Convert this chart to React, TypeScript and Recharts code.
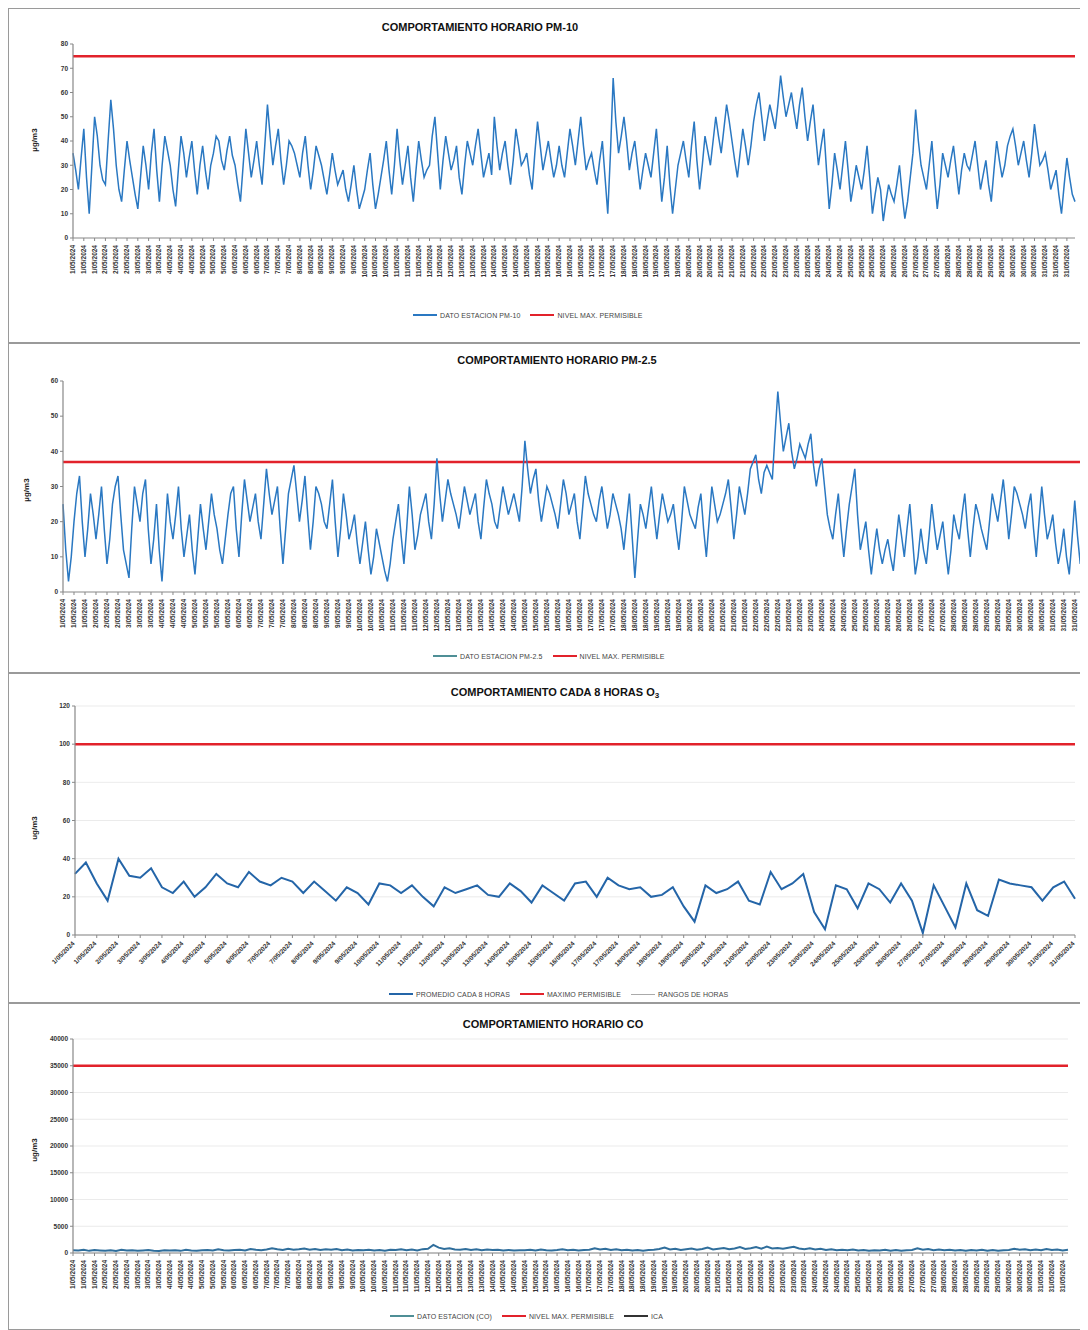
import React from 'react';
import { LineChart, Line, XAxis, YAxis, CartesianGrid, ReferenceLine } from 'recharts';

// ---------- DATA (May 2024) ----------
const MONTH_SUFFIX = '/05/2024';

// PM-10 hourly, sampled every 2 hours (12 per day)
const pm10Values = [
  35, 28, 20, 33, 45, 25, 10, 30, 50, 42, 30, 24,
  22, 40, 57, 45, 30, 20, 15, 28, 40, 32, 25, 18,
  12, 25, 38, 30, 20, 35, 45, 28, 15, 30, 42, 36,
  30, 20, 13, 28, 42, 35, 25, 33, 40, 28, 18, 30,
  38, 28, 20, 30, 35, 42, 40, 32, 28, 36, 42, 34,
  30, 22, 15, 30, 45, 35, 25, 32, 40, 30, 22, 38,
  55, 42, 30, 38, 45, 32, 22, 30, 40, 38, 35, 30,
  25, 35, 42, 30, 20, 28, 38, 34, 30, 24, 18, 26,
  35, 28, 22, 25, 28, 20, 15, 22, 30, 20, 12, 16,
  20, 28, 35, 22, 12, 18, 25, 32, 40, 28, 18, 30,
  45, 32, 22, 30, 38, 25, 15, 28, 40, 32, 25, 28,
  30, 42, 50, 35, 20, 32, 42, 35, 28, 32, 38, 25,
  18, 30, 40, 35, 30, 38, 45, 35, 25, 30, 35, 26,
  50, 38, 28, 35, 40, 30, 22, 32, 45, 38, 30, 32,
  35, 26, 20, 35, 48, 38, 28, 34, 40, 32, 25, 30,
  38, 30, 25, 35, 45, 38, 30, 40, 50, 38, 28, 32,
  35, 28, 22, 32, 40, 25, 10, 35, 66, 48, 35, 42,
  50, 40, 28, 35, 40, 30, 20, 28, 35, 30, 25, 35,
  45, 30, 15, 25, 38, 22, 10, 20, 30, 35, 40, 32,
  25, 38, 48, 32, 20, 30, 42, 36, 30, 40, 50, 42,
  35, 45, 55, 48, 40, 32, 25, 35, 45, 38, 30, 38,
  48, 55, 60, 50, 40, 48, 55, 50, 45, 55, 67, 58,
  50, 55, 60, 52, 45, 55, 62, 50, 40, 48, 55, 42,
  30, 38, 45, 28, 12, 22, 35, 28, 20, 30, 40, 28,
  15, 22, 30, 25, 20, 28, 38, 25, 10, 18, 25, 20,
  7, 15, 22, 18, 15, 22, 30, 18, 8, 15, 25, 35,
  53, 40, 30, 25, 20, 30, 40, 25, 12, 22, 35, 30,
  25, 32, 38, 28, 18, 28, 35, 30, 28, 34, 40, 30,
  20, 26, 32, 22, 15, 28, 40, 32, 25, 30, 38, 42,
  45, 38, 30, 35, 40, 32, 25, 35, 47, 38, 30, 32,
  35, 28, 20, 24, 28, 18, 10, 22, 33, 25, 18, 15,
];

// PM-2.5 hourly, sampled every 2 hours (12 per day)
const pm25Values = [
  25, 12, 3, 10, 20, 28, 33, 20, 10, 18, 28, 22,
  15, 22, 30, 18, 8, 15, 25, 30, 33, 22, 12, 8,
  4, 18, 30, 25, 20, 28, 32, 18, 8, 15, 25, 12,
  3, 15, 28, 20, 15, 22, 30, 18, 10, 16, 22, 12,
  5, 15, 25, 18, 12, 20, 28, 22, 18, 12, 8, 15,
  22, 28, 30, 18, 10, 22, 32, 26, 20, 24, 28, 20,
  15, 25, 35, 28, 22, 26, 30, 18, 8, 18, 28, 32,
  36, 28, 20, 26, 33, 22, 12, 20, 30, 28, 25, 20,
  18, 25, 32, 20, 10, 18, 28, 22, 15, 18, 22, 14,
  8, 14, 20, 12, 5, 10, 18, 14, 10, 6, 3, 8,
  15, 20, 25, 16, 8, 18, 30, 22, 12, 16, 22, 25,
  28, 20, 15, 25, 38, 28, 20, 26, 32, 28, 25, 22,
  18, 24, 30, 26, 22, 25, 28, 20, 15, 24, 32, 28,
  25, 20, 18, 24, 30, 26, 22, 25, 28, 24, 20, 30,
  43, 35, 28, 32, 35, 26, 20, 25, 30, 28, 25, 22,
  18, 25, 32, 28, 22, 25, 28, 20, 15, 24, 33, 28,
  25, 22, 20, 26, 30, 24, 18, 22, 28, 25, 22, 18,
  12, 20, 28, 16, 4, 15, 25, 22, 18, 24, 30, 22,
  15, 22, 28, 24, 20, 22, 25, 18, 12, 20, 30, 26,
  22, 20, 18, 24, 28, 18, 10, 20, 30, 25, 20, 22,
  25, 28, 32, 24, 15, 22, 30, 26, 22, 28, 35, 37,
  39, 32, 28, 34, 36, 34, 32, 45, 57, 48, 40, 44,
  48, 40, 35, 38, 42, 40, 38, 42, 45, 36, 30, 35,
  38, 30, 22, 18, 15, 22, 28, 18, 10, 18, 25, 30,
  35, 22, 12, 16, 20, 12, 5, 12, 18, 12, 8, 12,
  15, 10, 6, 14, 22, 16, 10, 18, 25, 15, 5, 10,
  18, 12, 8, 16, 25, 18, 12, 16, 20, 12, 5, 12,
  22, 18, 15, 22, 28, 18, 10, 18, 25, 22, 18, 15,
  12, 20, 28, 24, 20, 26, 32, 24, 15, 22, 30, 28,
  25, 22, 18, 24, 28, 18, 10, 20, 30, 22, 15, 18,
  22, 14, 8, 12, 18, 10, 5, 15, 26, 16, 8, 10,
];

// O3 8-hour averages (3 per day)
const o3Values = [
  32, 38, 27, 18, 40, 31, 30, 35, 25, 22, 28, 20, 25, 32, 27, 25, 33, 28,
  26, 30, 28, 22, 28, 23, 18, 25, 22, 16, 27, 26, 22, 26, 20, 15, 25, 22,
  24, 26, 21, 20, 27, 23, 17, 26, 22, 18, 27, 28, 20, 30, 26, 24, 25, 20,
  21, 25, 15, 7, 26, 22, 24, 28, 18, 16, 33, 24, 27, 32, 12, 3, 26, 24,
  14, 27, 24, 17, 27, 18, 1, 26, 15, 4, 27, 13, 10, 29, 27, 26, 25, 18,
  25, 28, 19,
];

// CO hourly, sampled every 4 hours (6 per day)
const coValues = [
  500, 450, 600, 400, 550, 480,
  420, 520, 380, 600, 450, 500,
  400, 480, 550, 420, 380, 500,
  450, 520, 400, 600, 480, 420,
  500, 580, 450, 700, 520, 480,
  550, 620, 480, 750, 600, 500,
  650, 900, 700, 550, 800, 600,
  700, 850, 600, 750, 550, 680,
  600, 750, 520, 650, 480, 580,
  500, 620, 450, 550, 420, 600,
  550, 700, 500, 650, 480, 720,
  800, 1500, 1000, 750, 900, 650,
  600, 750, 550, 700, 500, 650,
  550, 620, 480, 580, 450, 520,
  500, 600, 450, 650, 520, 480,
  550, 700, 500, 620, 480, 560,
  600, 900, 650, 800, 550, 700,
  500, 620, 450, 580, 420, 550,
  600, 750, 1000, 650, 800, 550,
  700, 850, 600, 750, 1000, 650,
  800, 950, 700, 850, 1100, 750,
  900, 1100, 800, 1200, 850, 950,
  800, 1000, 1150, 850, 700, 900,
  650, 800, 550, 700, 500, 600,
  500, 650, 450, 580, 420, 520,
  480, 600, 420, 550, 400, 500,
  550, 900, 600, 750, 500, 650,
  500, 620, 450, 580, 420, 550,
  480, 600, 430, 560, 410, 520,
  550, 800, 600, 700, 500, 650,
  500, 750, 550, 650, 450, 600,
];

const PM10_LIMIT = 75;
const PM25_LIMIT = 37;
const O3_LIMIT = 100;
const CO_LIMIT = 35000;

const pm10Ticks = [0, 10, 20, 30, 40, 50, 60, 70, 80];
const pm25Ticks = [0, 10, 20, 30, 40, 50, 60];
const o3Ticks = [0, 20, 40, 60, 80, 100, 120];
const coTicks = [0, 5000, 10000, 15000, 20000, 25000, 30000, 35000, 40000];

const buildRows = (values: number[], perDay: number) =>
  values.map((v, i) => ({ label: `${Math.floor(i / perDay) + 1}${MONTH_SUFFIX}`, value: v }));

const pm10Data = buildRows(pm10Values, 12);
const pm25Data = buildRows(pm25Values, 12);
const o3Data = buildRows(o3Values, 3);
const coData = buildRows(coValues, 6);

// ---------- STYLE ----------
const FONT = '"Liberation Sans", Arial, sans-serif';
const RED = '#e2222b';
const BLUE = '#2a78c2';
const O3_BLUE = '#2465a8';
const CO_BLUE = '#2f6e9c';

const VerticalTick = (props: any) => {
  const { x, y, payload } = props;
  const yy = y + 2;
  return (
    <text x={x + 2} y={yy} transform={`rotate(-90 ${x + 2} ${yy})`} textAnchor="end" fontSize={6.5}
      fontFamily={FONT} fontWeight="bold" fill="#333">
      {payload.value}
    </text>
  );
};

const DiagTick = (props: any) => {
  const { x, y, payload } = props;
  const yy = y + 4;
  return (
    <text x={x} y={yy} transform={`rotate(-45 ${x} ${yy})`} textAnchor="end" fontSize={6.5}
      fontFamily={FONT} fontWeight="bold" fill="#333">
      {payload.value}
    </text>
  );
};

type LegendItem = { label: string; color: string; width: number };

type PanelProps = {
  top: number;
  height: number;
  title: React.ReactNode;
  titleX: number;
  titleY: number;
  yLabel: string;
  yLabelX: number;
  yLabelY: number;
  plotLeft: number;
  plotTop: number;
  plotRight: number;
  plotBottom: number;
  data: { label: string; value: number }[];
  ticks: number[];
  limit: number;
  lineColor: string;
  lineWidth: number;
  diag?: boolean;
  tickInterval: number;
  legend: LegendItem[];
  legendX: number;
  legendY: number;
  grid?: boolean;
};

const Panel = (p: PanelProps) => {
  const width = 1080;
  const xAxisH = 60;
  const chartH = p.plotBottom + xAxisH;
  const max = p.ticks[p.ticks.length - 1];
  return (
    <div style={{ position: 'absolute', left: 0, top: p.top, width, height: p.height, fontFamily: FONT }}>
      <div style={{ position: 'absolute', left: 0, top: 0 }}>
        <LineChart width={width} height={chartH} data={p.data}
          margin={{ top: p.plotTop, right: width - p.plotRight, bottom: 0, left: 0 }}>
          {p.grid && <CartesianGrid vertical={false} stroke="#e6e6e6" strokeWidth={0.8} />}
          <XAxis dataKey="label" interval={p.tickInterval} height={xAxisH}
            tick={p.diag ? <DiagTick /> : <VerticalTick />} tickLine={{ stroke: '#888' }} tickSize={3}
            axisLine={{ stroke: '#888', strokeWidth: 1.2 }} />
          <XAxis xAxisId="top" dataKey="label" orientation="top" height={0} tick={false} tickLine={false}
            axisLine={{ stroke: '#888', strokeWidth: 1.2 }} />
          <YAxis width={p.plotLeft} domain={[0, max]} ticks={p.ticks} interval={0} tickSize={3}
            tick={{ fontSize: 6.5, fill: '#333', fontFamily: FONT, fontWeight: 'bold' }}
            tickLine={{ stroke: '#888' }} axisLine={{ stroke: '#888', strokeWidth: 1.2 }} />
          <YAxis yAxisId="right" orientation="right" width={0} domain={[0, 1]} type="number" tick={false}
            tickLine={false} axisLine={{ stroke: '#888', strokeWidth: 1.2 }} />
          <ReferenceLine y={p.limit} stroke={RED} strokeWidth={2.5} ifOverflow="extendDomain" />
          <Line type="linear" dataKey="value" stroke={p.lineColor} strokeWidth={p.lineWidth} dot={false}
            isAnimationActive={false} />
        </LineChart>
      </div>
      <div style={{ position: 'absolute', left: 0, width: p.titleX * 2, top: p.titleY - 8, textAlign: 'center',
        fontSize: 11, fontWeight: 'bold', color: '#111', whiteSpace: 'nowrap', lineHeight: '16px' }}>
        {p.title}
      </div>
      <div style={{ position: 'absolute', left: p.yLabelX - 30, top: p.yLabelY - 8, width: 60, height: 16,
        transform: 'rotate(-90deg)', textAlign: 'center', fontSize: 8, fontWeight: 'bold', color: '#222',
        lineHeight: '16px' }}>
        {p.yLabel}
      </div>
      <div style={{ position: 'absolute', left: p.legendX, top: p.legendY - 6, height: 12, display: 'flex',
        alignItems: 'center', gap: 10, whiteSpace: 'nowrap' }}>
        {p.legend.map((it) => (
          <div key={it.label} style={{ display: 'flex', alignItems: 'center', gap: 3 }}>
            <div style={{ width: 24, height: it.width, background: it.color }} />
            <span style={{ fontSize: 7, color: '#444', letterSpacing: 0.1 }}>{it.label}</span>
          </div>
        ))}
      </div>
      <div style={{ position: 'absolute', left: 0, top: 0, width: width - 2, height: p.height - 2,
        border: '1.5px solid #9a9a9a', pointerEvents: 'none' }} />
    </div>
  );
};

export default function App() {
  return (
    <div style={{ position: 'relative', width: 1080, height: 1322, background: '#fff' }}>
      <Panel top={0} height={335} title="COMPORTAMIENTO HORARIO PM-10" titleX={472} titleY={19}
        yLabel="µg/m3" yLabelX={27} yLabelY={132}
        plotLeft={65} plotTop={36} plotRight={1067} plotBottom={230}
        data={pm10Data} ticks={pm10Ticks} limit={PM10_LIMIT} lineColor={BLUE} lineWidth={1.5}
        tickInterval={3}
        legend={[{ label: 'DATO ESTACION PM-10', color: BLUE, width: 2 },
          { label: 'NIVEL MAX. PERMISIBLE', color: RED, width: 2 }]}
        legendX={405} legendY={307} />
      <Panel top={335} height={330} title="COMPORTAMIENTO HORARIO PM-2.5" titleX={549} titleY={17}
        yLabel="µg/m3" yLabelX={19} yLabelY={147}
        plotLeft={55} plotTop={38} plotRight={1075} plotBottom={249}
        data={pm25Data} ticks={pm25Ticks} limit={PM25_LIMIT} lineColor={BLUE} lineWidth={1.5}
        tickInterval={3}
        legend={[{ label: 'DATO ESTACION PM-2.5', color: '#4f8f96', width: 2 },
          { label: 'NIVEL MAX. PERMISIBLE', color: RED, width: 2 }]}
        legendX={425} legendY={313} />
      <Panel top={665} height={330}
        title={<span>COMPORTAMIENTO CADA 8 HORAS O<span style={{ fontSize: 8, verticalAlign: -2 }}>3</span></span>}
        titleX={547} titleY={19}
        yLabel="ug/m3" yLabelX={27} yLabelY={155}
        plotLeft={67} plotTop={33} plotRight={1067} plotBottom={262}
        data={o3Data} ticks={o3Ticks} limit={O3_LIMIT} lineColor={O3_BLUE} lineWidth={2}
        tickInterval={1} diag grid
        legend={[{ label: 'PROMEDIO CADA 8 HORAS', color: O3_BLUE, width: 2 },
          { label: 'MAXIMO PERMISIBLE', color: RED, width: 2 },
          { label: 'RANGOS DE HORAS', color: '#aaaaaa', width: 1 }]}
        legendX={381} legendY={321} />
      <Panel top={995} height={327} title="COMPORTAMIENTO HORARIO CO" titleX={545} titleY={21}
        yLabel="ug/m3" yLabelX={27} yLabelY={147}
        plotLeft={65} plotTop={36} plotRight={1060} plotBottom={250}
        data={coData} ticks={coTicks} limit={CO_LIMIT} lineColor={CO_BLUE} lineWidth={2}
        tickInterval={1} grid
        legend={[{ label: 'DATO ESTACION (CO)', color: '#4f8f96', width: 2 },
          { label: 'NIVEL MAX. PERMISIBLE', color: RED, width: 2 },
          { label: 'ICA', color: '#333', width: 1.5 }]}
        legendX={382} legendY={313} />
    </div>
  );
}
